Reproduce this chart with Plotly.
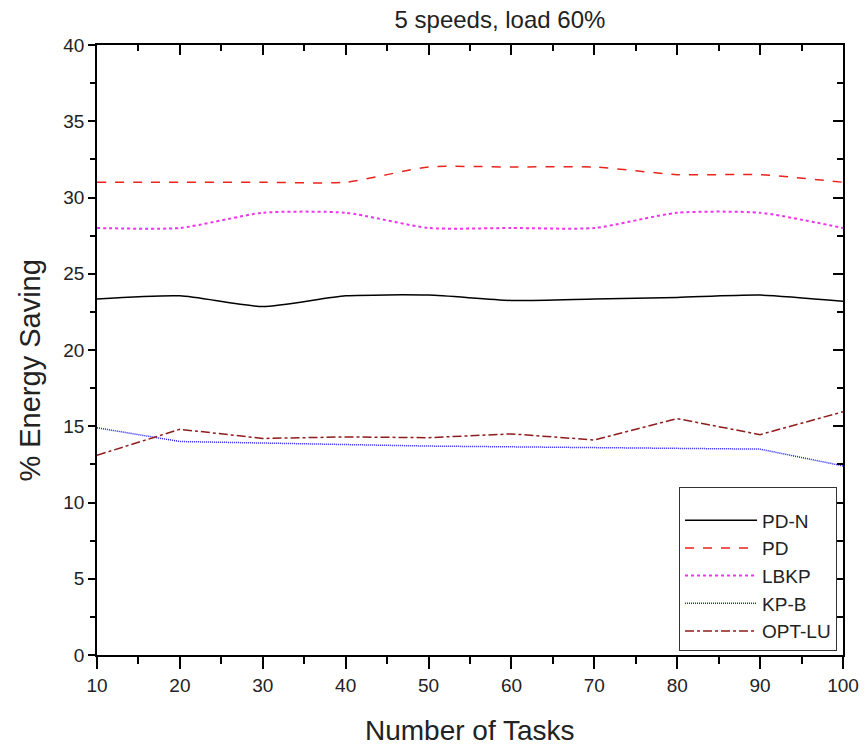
import plotly.graph_objects as go

tasks = [10, 20, 30, 40, 50, 60, 70, 80, 90, 100]
pd_n = [23.35, 23.55, 22.85, 23.55, 23.6, 23.25, 23.35, 23.45, 23.6, 23.2]
pd_ = [31.0, 31.0, 31.0, 31.0, 32.0, 32.0, 32.0, 31.5, 31.5, 31.0]
lbkp = [28.0, 28.0, 29.0, 29.0, 28.0, 28.0, 28.0, 29.0, 29.0, 28.0]
kp_b = [14.9, 14.0, 13.9, 13.8, 13.7, 13.65, 13.6, 13.55, 13.5, 12.4]
opt_lu = [13.1, 14.8, 14.2, 14.3, 14.25, 14.5, 14.1, 15.5, 14.45, 15.95]

x_ticks = [10, 20, 30, 40, 50, 60, 70, 80, 90, 100]
y_ticks = [0, 5, 10, 15, 20, 25, 30, 35, 40]

FONT = "Liberation Sans, Arial, sans-serif"

series = [
    ("PD-N", pd_n, dict(color="black", width=1.5, dash="solid"), "spline"),
    ("PD", pd_, dict(color="#e8241c", width=1.5, dash="dash"), "spline"),
    ("LBKP", lbkp, dict(color="#ee33ee", width=2, dash="dot"), "spline"),
    ("KP-B", kp_b, dict(color="#1a1aee", width=1.5, dash="1px,1px"), "linear"),
    ("OPT-LU", opt_lu, dict(color="#8e1c1c", width=1.5, dash="dashdot"), "linear"),
]

fig = go.Figure()
for name, vals, line, shape in series:
    fig.add_trace(go.Scatter(x=tasks, y=vals, name=name, mode="lines",
                             line=dict(shape=shape, smoothing=0.6, **line)))

# invisible trace for mirrored inward-tick axes
fig.add_trace(go.Scatter(x=tasks, y=pd_n, xaxis="x2", yaxis="y2", mode="lines",
                         line=dict(color="rgba(0,0,0,0)"), showlegend=False,
                         hoverinfo="skip"))

axis_common = dict(showgrid=False, zeroline=False, showline=True,
                   linecolor="black", linewidth=1.5, tickcolor="black",
                   tickwidth=1.5, automargin=False,
                   tickfont=dict(family=FONT, size=19, color="#222"))
axis_mirror = {k: v for k, v in axis_common.items() if k != "tickfont"}

fig.update_layout(
    width=865, height=748,
    paper_bgcolor="white", plot_bgcolor="white",
    margin=dict(l=97, r=22, t=45, b=93),
    title=dict(text="5 speeds, load 60%", x=0.578, xanchor="center",
               y=0.974, yanchor="middle",
               font=dict(family=FONT, size=24, color="#222")),
    xaxis=dict(range=[10, 100], tickvals=x_ticks, ticks="outside", ticklen=12,
               minor=dict(dtick=5, ticks="outside", ticklen=7, tickcolor="black", tickwidth=1.5),
               **axis_common),
    yaxis=dict(range=[0, 40], tickvals=y_ticks, ticks="outside", ticklen=7,
               minor=dict(dtick=2.5, ticks="outside", ticklen=5, tickcolor="black", tickwidth=1.5),
               **axis_common),
    xaxis2=dict(range=[10, 100], overlaying="x", side="top", anchor="y2",
                tickvals=x_ticks, ticks="inside", ticklen=10, showticklabels=False,
                minor=dict(dtick=5, ticks="inside", ticklen=6, tickcolor="black", tickwidth=1.5),
                **axis_mirror),
    yaxis2=dict(range=[0, 40], overlaying="y", side="right", anchor="x2",
                tickvals=y_ticks, ticks="inside", ticklen=10, showticklabels=False,
                minor=dict(dtick=2.5, ticks="inside", ticklen=6, tickcolor="black", tickwidth=1.5),
                **axis_mirror),
    annotations=[
        dict(text="Number of Tasks", xref="paper", yref="paper",
             x=0.5, y=-0.123, xanchor="center", yanchor="middle",
             showarrow=False, font=dict(family=FONT, size=28, color="#222")),
        dict(text="% Energy Saving", xref="paper", yref="paper",
             x=-0.09, y=0.466, xanchor="center", yanchor="middle", textangle=-90,
             showarrow=False, font=dict(family=FONT, size=29, color="#222")),
    ],
    legend=dict(x=0.992, y=0.006, xanchor="right", yanchor="bottom",
                bordercolor="#333", borderwidth=1, bgcolor="white",
                font=dict(family=FONT, size=19, color="#222"),
                title=dict(text=" ", font=dict(size=10)),
                tracegroupgap=0, itemwidth=72),
    showlegend=True,
)

fig.write_html("out.html", config={"displayModeBar": False},
               post_script="document.body.style.margin='0';")
